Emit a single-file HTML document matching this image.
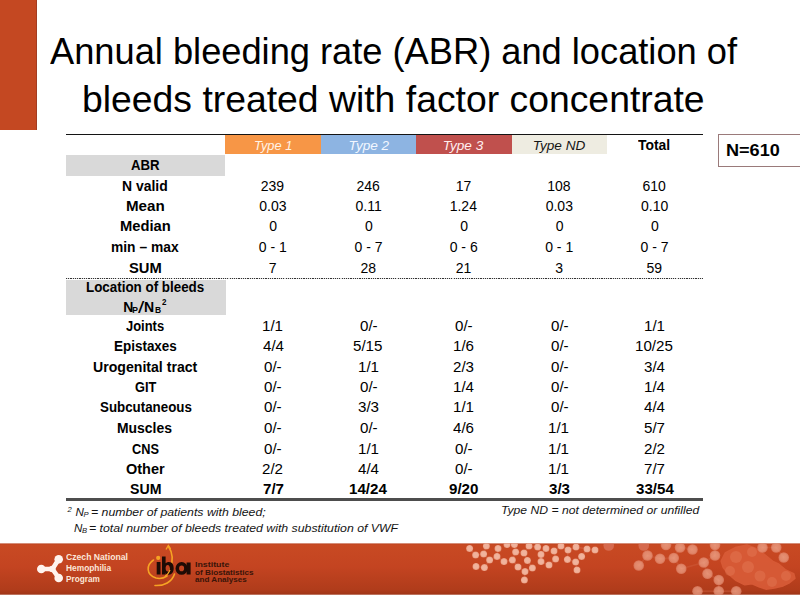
<!DOCTYPE html>
<html><head><meta charset="utf-8"><style>
*{margin:0;padding:0;box-sizing:border-box}
html,body{width:800px;height:600px;overflow:hidden;background:#fff}
body{position:relative;font-family:"Liberation Sans", sans-serif}
.t{position:absolute;line-height:0;white-space:nowrap;transform-origin:0 0}
.r{position:absolute}
</style></head><body>
<div class="r" style="left:0px;top:0px;width:37.00px;height:130.30px;background:linear-gradient(90deg,#C44822 0,#C44822 35.6px,#A83E22 36px,#9E3A20 37px)"></div>
<div class="r" style="left:225px;top:134.5px;width:95.50px;height:19.80px;background:#F79646"></div>
<div class="r" style="left:320.5px;top:134.5px;width:95.50px;height:19.80px;background:#8DB4E2"></div>
<div class="r" style="left:416px;top:134.5px;width:95.70px;height:19.80px;background:#C0504D"></div>
<div class="r" style="left:511.7px;top:134.5px;width:95.00px;height:19.80px;background:#EEECE1"></div>
<div class="r" style="left:66px;top:134px;width:637.00px;height:1.20px;background:#141414"></div>
<div class="r" style="left:66px;top:155px;width:159.00px;height:20.60px;background:#D9D9D9"></div>
<div class="r" style="left:66px;top:279.5px;width:159.50px;height:35.30px;background:#D9D9D9"></div>
<div class="r" style="left:66px;top:277.5px;width:637.00px;height:1.70px;background-image:repeating-linear-gradient(90deg,#333 0 1.2px,#ddd 1.2px 2.24px)"></div>
<div class="r" style="left:66px;top:498.2px;width:637.00px;height:2.60px;background:#4d4d4d"></div>
<div class="r" style="left:718px;top:134.2px;width:88.00px;height:33.10px;border:1.4px solid #9a7a7a;background:#fff"></div>
<svg class="r" style="left:0;top:540px" width="800" height="60" viewBox="0 540 800 60">
<defs>
<linearGradient id="bg" x1="0" y1="0" x2="0" y2="1">
<stop offset="0" stop-color="#B9421F"/><stop offset="0.03" stop-color="#C84A23"/><stop offset="0.45" stop-color="#C44421"/><stop offset="0.9" stop-color="#B03C1B"/><stop offset="1" stop-color="#9F3517"/>
</linearGradient>
<radialGradient id="dot"><stop offset="0" stop-color="#EEB39E"/><stop offset="0.55" stop-color="#F1B39C"/><stop offset="0.85" stop-color="#EDA78D"/><stop offset="1" stop-color="#E08A6E"/></radialGradient>
<radialGradient id="dot2"><stop offset="0" stop-color="#F0A88E"/><stop offset="0.7" stop-color="#EA9C82"/><stop offset="1" stop-color="#DF7F63"/></radialGradient>
<clipPath id="band"><rect x="0" y="543.4" width="800" height="51.3"/></clipPath>
</defs>
<rect x="0" y="543.4" width="800" height="51.3" fill="url(#bg)"/>
<g clip-path="url(#band)">
<g opacity="0.9">
<path d="M721.4,561.3 L725.6,552.8 L736.3,547.4 L746.9,545.3 L755.4,548.5 L760.7,551.7 L766,556 L772.4,561.3 L778.8,564.4 L785.1,569.8 L793.6,574 L794.7,578.3 L789.4,582.5 L783,585.7 L774.5,587.8 L766,588.9 L759.6,586.8 L752.2,583.6 L744.8,584.6 L736.3,580.4 L728.8,574 L723.5,567.6 Z" fill="#D95C38" stroke="#D95C38" stroke-width="2" stroke-linejoin="round"/>
<circle cx="736" cy="557" r="6" fill="#E8805E" opacity="0.45"/>
<circle cx="748" cy="567" r="6" fill="#E8805E" opacity="0.45"/>
<circle cx="760" cy="576" r="5.5" fill="#E8805E" opacity="0.45"/>
<circle cx="772" cy="582" r="5" fill="#E8805E" opacity="0.45"/>
<circle cx="730" cy="571" r="5" fill="#E8805E" opacity="0.45"/>
<circle cx="786" cy="576" r="5" fill="#E8805E" opacity="0.45"/>
<circle cx="752" cy="552" r="5" fill="#E8805E" opacity="0.45"/>
</g>
<line x1="469.6" y1="548.4" x2="475.6" y2="555" stroke="#D4694C" stroke-width="1.4" opacity="0.55"/>
<line x1="475.6" y1="555" x2="483.6" y2="554" stroke="#D4694C" stroke-width="1.4" opacity="0.55"/>
<line x1="483.6" y1="554" x2="486.4" y2="546" stroke="#D4694C" stroke-width="1.4" opacity="0.55"/>
<line x1="483.6" y1="554" x2="489.6" y2="560" stroke="#D4694C" stroke-width="1.4" opacity="0.55"/>
<line x1="489.6" y1="560" x2="497" y2="556.4" stroke="#D4694C" stroke-width="1.4" opacity="0.55"/>
<line x1="497" y1="556.4" x2="498" y2="548.4" stroke="#D4694C" stroke-width="1.4" opacity="0.55"/>
<line x1="489.6" y1="560" x2="484.4" y2="567.6" stroke="#D4694C" stroke-width="1.4" opacity="0.55"/>
<line x1="484.4" y1="567.6" x2="476" y2="566.4" stroke="#D4694C" stroke-width="1.4" opacity="0.55"/>
<line x1="497" y1="556.4" x2="504" y2="561.6" stroke="#D4694C" stroke-width="1.4" opacity="0.55"/>
<line x1="504" y1="561.6" x2="512.4" y2="560" stroke="#D4694C" stroke-width="1.4" opacity="0.55"/>
<line x1="512.4" y1="560" x2="515.6" y2="552" stroke="#D4694C" stroke-width="1.4" opacity="0.55"/>
<line x1="515.6" y1="552" x2="524" y2="553" stroke="#D4694C" stroke-width="1.4" opacity="0.55"/>
<line x1="512.4" y1="560" x2="518" y2="567" stroke="#D4694C" stroke-width="1.4" opacity="0.55"/>
<line x1="518" y1="567" x2="525" y2="571.6" stroke="#D4694C" stroke-width="1.4" opacity="0.55"/>
<line x1="525" y1="571.6" x2="524.4" y2="580" stroke="#D4694C" stroke-width="1.4" opacity="0.55"/>
<line x1="527.4" y1="560.4" x2="524" y2="553" stroke="#D4694C" stroke-width="1.4" opacity="0.55"/>
<line x1="527.4" y1="560.4" x2="532.4" y2="568" stroke="#D4694C" stroke-width="1.4" opacity="0.55"/>
<line x1="532.4" y1="568" x2="525" y2="571.6" stroke="#D4694C" stroke-width="1.4" opacity="0.55"/>
<line x1="524" y1="553" x2="529" y2="546" stroke="#D4694C" stroke-width="1.4" opacity="0.55"/>
<line x1="529" y1="546" x2="537.6" y2="547" stroke="#D4694C" stroke-width="1.4" opacity="0.55"/>
<line x1="537.6" y1="547" x2="541" y2="554.4" stroke="#D4694C" stroke-width="1.4" opacity="0.55"/>
<line x1="541" y1="554.4" x2="546" y2="548.4" stroke="#D4694C" stroke-width="1.4" opacity="0.55"/>
<line x1="541" y1="554.4" x2="541" y2="561.6" stroke="#D4694C" stroke-width="1.4" opacity="0.55"/>
<line x1="541" y1="561.6" x2="549" y2="565" stroke="#D4694C" stroke-width="1.4" opacity="0.55"/>
<line x1="549" y1="565" x2="555.6" y2="559" stroke="#D4694C" stroke-width="1.4" opacity="0.55"/>
<line x1="555.6" y1="559" x2="554" y2="551" stroke="#D4694C" stroke-width="1.4" opacity="0.55"/>
<line x1="554" y1="551" x2="561" y2="546" stroke="#D4694C" stroke-width="1.4" opacity="0.55"/>
<line x1="561" y1="546" x2="568" y2="550" stroke="#D4694C" stroke-width="1.4" opacity="0.55"/>
<line x1="568" y1="550" x2="576" y2="547" stroke="#D4694C" stroke-width="1.4" opacity="0.55"/>
<line x1="576" y1="547" x2="587" y2="549" stroke="#D4694C" stroke-width="1.4" opacity="0.55"/>
<line x1="587" y1="549" x2="595" y2="550" stroke="#D4694C" stroke-width="1.4" opacity="0.55"/>
<line x1="568" y1="550" x2="567.4" y2="559.4" stroke="#D4694C" stroke-width="1.4" opacity="0.55"/>
<line x1="567.4" y1="559.4" x2="575.6" y2="562" stroke="#D4694C" stroke-width="1.4" opacity="0.55"/>
<line x1="575.6" y1="562" x2="577" y2="570" stroke="#D4694C" stroke-width="1.4" opacity="0.55"/>
<line x1="581.6" y1="556.4" x2="587" y2="549" stroke="#D4694C" stroke-width="1.4" opacity="0.55"/>
<line x1="647.5" y1="555.5" x2="660" y2="558.75" stroke="#D0603F" stroke-width="1.8" opacity="0.45"/>
<line x1="660" y1="558.75" x2="673.75" y2="558" stroke="#D0603F" stroke-width="1.8" opacity="0.45"/>
<line x1="673.75" y1="558" x2="681.25" y2="568.75" stroke="#D0603F" stroke-width="1.8" opacity="0.45"/>
<line x1="647.5" y1="555.5" x2="638.75" y2="565.5" stroke="#D0603F" stroke-width="1.8" opacity="0.45"/>
<line x1="673.75" y1="558" x2="680" y2="547.5" stroke="#D0603F" stroke-width="1.8" opacity="0.45"/>
<line x1="680" y1="547.5" x2="692.5" y2="549.5" stroke="#D0603F" stroke-width="1.8" opacity="0.45"/>
<line x1="681.25" y1="568.75" x2="703.75" y2="562.5" stroke="#D0603F" stroke-width="1.8" opacity="0.45"/>
<line x1="703.75" y1="562.5" x2="707.5" y2="573.75" stroke="#D0603F" stroke-width="1.8" opacity="0.45"/>
<line x1="707.5" y1="573.75" x2="718.75" y2="580" stroke="#D0603F" stroke-width="1.8" opacity="0.45"/>
<line x1="703.75" y1="562.5" x2="715" y2="555.5" stroke="#D0603F" stroke-width="1.8" opacity="0.45"/>
<line x1="718.75" y1="580" x2="718.75" y2="591.25" stroke="#D0603F" stroke-width="1.8" opacity="0.45"/>
<line x1="697.5" y1="591.25" x2="718.75" y2="591.25" stroke="#D0603F" stroke-width="1.8" opacity="0.45"/>
<line x1="718.75" y1="591.25" x2="736.25" y2="591.25" stroke="#D0603F" stroke-width="1.8" opacity="0.45"/>
<line x1="715" y1="555.5" x2="715" y2="545" stroke="#D0603F" stroke-width="1.8" opacity="0.45"/>
<line x1="762.5" y1="547.5" x2="776.25" y2="547.5" stroke="#D0603F" stroke-width="1.8" opacity="0.45"/>
<line x1="776.25" y1="547.5" x2="783.75" y2="557.5" stroke="#D0603F" stroke-width="1.8" opacity="0.45"/>
<circle cx="469.6" cy="548.4" r="3.5" fill="url(#dot)"/>
<circle cx="486.4" cy="546" r="3.5" fill="url(#dot)"/>
<circle cx="498" cy="548.4" r="3.5" fill="url(#dot)"/>
<circle cx="475.6" cy="555" r="3.5" fill="url(#dot)"/>
<circle cx="483.6" cy="554" r="3.5" fill="url(#dot)"/>
<circle cx="497" cy="556.4" r="3.5" fill="url(#dot)"/>
<circle cx="489.6" cy="560" r="3.5" fill="url(#dot)"/>
<circle cx="476" cy="566.4" r="3.5" fill="url(#dot)"/>
<circle cx="484.4" cy="567.6" r="3.5" fill="url(#dot)"/>
<circle cx="504" cy="561.6" r="3.5" fill="url(#dot)"/>
<circle cx="512.4" cy="560" r="3.5" fill="url(#dot)"/>
<circle cx="515.6" cy="552" r="3.5" fill="url(#dot)"/>
<circle cx="524" cy="553" r="3.5" fill="url(#dot)"/>
<circle cx="518" cy="567" r="3.5" fill="url(#dot)"/>
<circle cx="527.4" cy="560.4" r="3.5" fill="url(#dot)"/>
<circle cx="525" cy="571.6" r="3.5" fill="url(#dot)"/>
<circle cx="532.4" cy="568" r="3.5" fill="url(#dot)"/>
<circle cx="524.4" cy="580" r="3.5" fill="url(#dot)"/>
<circle cx="529" cy="546" r="3.5" fill="url(#dot)"/>
<circle cx="537.6" cy="547" r="3.5" fill="url(#dot)"/>
<circle cx="546" cy="548.4" r="3.5" fill="url(#dot)"/>
<circle cx="541" cy="554.4" r="3.5" fill="url(#dot)"/>
<circle cx="554" cy="551" r="3.5" fill="url(#dot)"/>
<circle cx="541" cy="561.6" r="3.5" fill="url(#dot)"/>
<circle cx="549" cy="565" r="3.5" fill="url(#dot)"/>
<circle cx="555.6" cy="559" r="3.5" fill="url(#dot)"/>
<circle cx="561" cy="546" r="3.5" fill="url(#dot)"/>
<circle cx="568" cy="550" r="3.5" fill="url(#dot)"/>
<circle cx="576" cy="547" r="3.5" fill="url(#dot)"/>
<circle cx="587" cy="549" r="3.5" fill="url(#dot)"/>
<circle cx="595" cy="550" r="3.5" fill="url(#dot)"/>
<circle cx="581.6" cy="556.4" r="3.5" fill="url(#dot)"/>
<circle cx="567.4" cy="559.4" r="3.5" fill="url(#dot)"/>
<circle cx="575.6" cy="562" r="3.5" fill="url(#dot)"/>
<circle cx="577" cy="570" r="3.5" fill="url(#dot)"/>
<circle cx="514.4" cy="544.5" r="3.5" fill="url(#dot)"/>
<circle cx="507" cy="544.5" r="3.5" fill="url(#dot)"/>
<circle cx="647.5" cy="555.5" r="5.3" fill="url(#dot2)" opacity="0.75"/>
<circle cx="660" cy="558.75" r="5.3" fill="url(#dot2)" opacity="0.75"/>
<circle cx="673.75" cy="558" r="5.3" fill="url(#dot2)" opacity="0.75"/>
<circle cx="638.75" cy="565.5" r="5.3" fill="url(#dot2)" opacity="0.75"/>
<circle cx="681.25" cy="568.75" r="5.3" fill="url(#dot2)" opacity="0.75"/>
<circle cx="680" cy="547.5" r="5.3" fill="url(#dot2)" opacity="0.75"/>
<circle cx="692.5" cy="549.5" r="5.3" fill="url(#dot2)" opacity="0.75"/>
<circle cx="666" cy="545" r="5.3" fill="url(#dot2)" opacity="0.75"/>
<circle cx="703.75" cy="562.5" r="5.3" fill="url(#dot2)" opacity="0.75"/>
<circle cx="707.5" cy="573.75" r="5.3" fill="url(#dot2)" opacity="0.75"/>
<circle cx="715" cy="555.5" r="5.3" fill="url(#dot2)" opacity="0.75"/>
<circle cx="718.75" cy="580" r="5.3" fill="url(#dot2)" opacity="0.75"/>
<circle cx="697.5" cy="591.25" r="5.3" fill="url(#dot2)" opacity="0.75"/>
<circle cx="718.75" cy="591.25" r="5.3" fill="url(#dot2)" opacity="0.75"/>
<circle cx="736.25" cy="591.25" r="5.3" fill="url(#dot2)" opacity="0.75"/>
<circle cx="715" cy="545" r="5.3" fill="url(#dot2)" opacity="0.75"/>
<circle cx="762.5" cy="547.5" r="5.3" fill="url(#dot2)" opacity="0.75"/>
<circle cx="776.25" cy="547.5" r="5.3" fill="url(#dot2)" opacity="0.75"/>
<circle cx="783.75" cy="557.5" r="5.3" fill="url(#dot2)" opacity="0.75"/>
<circle cx="608.75" cy="545.5" r="5.3" fill="#E0806A" opacity="0.6"/>
<circle cx="643.75" cy="545.5" r="5.3" fill="#E0806A" opacity="0.6"/>
<g stroke="#FFF3EE" stroke-width="4.6" stroke-linecap="round" fill="none"><path d="M41.5,569 L52.5,569 L58.7,559.3 M52.5,569 L58.7,578"/></g>
<g fill="#FFF3EE"><circle cx="58.7" cy="559.3" r="4.3"/><circle cx="41.3" cy="569" r="4.3"/><circle cx="58.7" cy="578" r="4.3"/><circle cx="52.3" cy="569" r="3.3"/></g>
<g fill="none" stroke="#F6A324" stroke-width="1.6" stroke-linecap="round"><path d="M153.5,560 C146,565 146,575 156,578 C160,579 164,578 167,576"/><path d="M174.5,574 C172,582 164,586 155,585.5"/><path d="M170,570 C173,562 173,553 168.5,546.5"/></g>
<path d="M166,549.5 L168.3,545.5 L170.6,549" fill="none" stroke="#F6A324" stroke-width="1.4"/>
<g fill="#1E0B05"><rect x="156.7" y="562" width="3.8" height="12.5"/><path d="M162,556.6 h3.6 v6.6 c1,-0.9 2.3,-1.2 3.4,-1.2 c3.2,0 4.7,2.8 4.7,6.3 c0,3.6 -1.6,6.4 -4.9,6.4 c-1.3,0 -2.5,-0.5 -3.3,-1.4 v1.2 h-3.5 z M167.7,565 c-1.5,0 -2.1,1.5 -2.1,3.3 c0,1.9 0.7,3.3 2.1,3.3 c1.5,0 2.1,-1.5 2.1,-3.3 c0,-1.9 -0.7,-3.3 -2.1,-3.3 z" fill-rule="evenodd"/><ellipse cx="181.6" cy="568.4" rx="4.3" ry="4.6" fill="none" stroke="#1E0B05" stroke-width="3.6"/><path d="M186.6,562.4 h4.0 v12.1 h-4.0 z"/></g>
<circle cx="158.2" cy="557.9" r="2.1" fill="#F6A324"/>
<path d="M170,570 C168,574 166,576 165,576" fill="none" stroke="#F6A324" stroke-width="1.3"/>
</g></svg>
<div class="t" style="left:50.00px;top:52.00px;font-size:36.2px;color:#000;transform:scaleX(1.0015)">Annual bleeding rate (ABR) and location of</div>
<div class="t" style="left:81.94px;top:100.00px;font-size:36.2px;color:#000;transform:scaleX(1.0317)">bleeds treated with factor concentrate</div>
<div class="t" style="left:254.06px;top:146.00px;font-size:13.6px;font-style:italic;color:#FFF3E6;transform:scaleX(0.9436)">Type 1</div>
<div class="t" style="left:348.60px;top:146.00px;font-size:13.6px;font-style:italic;color:#F2F7FF;transform:scaleX(1.0000)">Type 2</div>
<div class="t" style="left:442.70px;top:146.00px;font-size:13.6px;font-style:italic;color:#FFEFEF;transform:scaleX(1.0000)">Type 3</div>
<div class="t" style="left:532.70px;top:146.00px;font-size:13.6px;font-style:italic;color:#151515;transform:scaleX(1.0000)">Type ND</div>
<div class="t" style="left:638.40px;top:146.00px;font-size:13.8px;font-weight:bold;color:#000;transform:scaleX(1.0065)">Total</div>
<div class="t" style="left:131.00px;top:165.00px;font-size:14px;font-weight:bold;color:#000;transform:scaleX(0.9433)">ABR</div>
<div class="t" style="left:122.20px;top:186.00px;font-size:14px;font-weight:bold;color:#000;transform:scaleX(0.9955)">N valid</div>
<div class="t" style="left:125.52px;top:206.00px;font-size:14px;font-weight:bold;color:#000;transform:scaleX(1.0824)">Mean</div>
<div class="t" style="left:119.85px;top:226.00px;font-size:14px;font-weight:bold;color:#000;transform:scaleX(1.0532)">Median</div>
<div class="t" style="left:110.91px;top:247.00px;font-size:14px;font-weight:bold;color:#000;transform:scaleX(0.9866)">min – max</div>
<div class="t" style="left:128.60px;top:268.00px;font-size:14px;font-weight:bold;color:#000;transform:scaleX(1.0533)">SUM</div>
<div class="t" style="left:85.84px;top:287.00px;font-size:14px;font-weight:bold;color:#000;transform:scaleX(0.9557)">Location of bleeds</div>
<div class="t" style="left:125.80px;top:326.00px;font-size:14px;font-weight:bold;color:#000;transform:scaleX(0.9244)">Joints</div>
<div class="t" style="left:113.74px;top:346.00px;font-size:14px;font-weight:bold;color:#000;transform:scaleX(0.9609)">Epistaxes</div>
<div class="t" style="left:93.29px;top:367.00px;font-size:14px;font-weight:bold;color:#000;transform:scaleX(1.0078)">Urogenital tract</div>
<div class="t" style="left:134.50px;top:387.00px;font-size:14px;font-weight:bold;color:#000;transform:scaleX(0.9130)">GIT</div>
<div class="t" style="left:99.70px;top:407.00px;font-size:14px;font-weight:bold;color:#000;transform:scaleX(0.9521)">Subcutaneous</div>
<div class="t" style="left:117.31px;top:428.00px;font-size:14px;font-weight:bold;color:#000;transform:scaleX(0.9944)">Muscles</div>
<div class="t" style="left:131.80px;top:449.00px;font-size:14px;font-weight:bold;color:#000;transform:scaleX(0.9103)">CNS</div>
<div class="t" style="left:126.20px;top:469.00px;font-size:14px;font-weight:bold;color:#000;transform:scaleX(1.0351)">Other</div>
<div class="t" style="left:129.70px;top:489.00px;font-size:14px;font-weight:bold;color:#000;transform:scaleX(1.0100)">SUM</div>
<div class="t" style="left:260.80px;top:186.00px;font-size:14px;color:#000;transform:scaleX(1.0000)">239</div>
<div class="t" style="left:356.50px;top:186.00px;font-size:14px;color:#000;transform:scaleX(1.0000)">246</div>
<div class="t" style="left:455.70px;top:186.00px;font-size:14px;color:#000;transform:scaleX(1.0000)">17</div>
<div class="t" style="left:547.20px;top:186.00px;font-size:14px;color:#000;transform:scaleX(1.0000)">108</div>
<div class="t" style="left:642.50px;top:186.00px;font-size:14px;color:#000;transform:scaleX(1.0000)">610</div>
<div class="t" style="left:259.30px;top:206.00px;font-size:14px;color:#000;transform:scaleX(1.0000)">0.03</div>
<div class="t" style="left:355.50px;top:206.00px;font-size:14px;color:#000;transform:scaleX(1.0000)">0.11</div>
<div class="t" style="left:449.70px;top:206.00px;font-size:14px;color:#000;transform:scaleX(1.0000)">1.24</div>
<div class="t" style="left:545.70px;top:206.00px;font-size:14px;color:#000;transform:scaleX(1.0000)">0.03</div>
<div class="t" style="left:641.00px;top:206.00px;font-size:14px;color:#000;transform:scaleX(1.0000)">0.10</div>
<div class="t" style="left:269.30px;top:226.00px;font-size:14px;color:#000;transform:scaleX(1.0000)">0</div>
<div class="t" style="left:365.00px;top:226.00px;font-size:14px;color:#000;transform:scaleX(1.0000)">0</div>
<div class="t" style="left:460.20px;top:226.00px;font-size:14px;color:#000;transform:scaleX(1.0000)">0</div>
<div class="t" style="left:555.70px;top:226.00px;font-size:14px;color:#000;transform:scaleX(1.0000)">0</div>
<div class="t" style="left:651.00px;top:226.00px;font-size:14px;color:#000;transform:scaleX(1.0000)">0</div>
<div class="t" style="left:258.80px;top:247.00px;font-size:14px;color:#000;transform:scaleX(1.0000)">0 - 1</div>
<div class="t" style="left:354.50px;top:247.00px;font-size:14px;color:#000;transform:scaleX(1.0000)">0 - 7</div>
<div class="t" style="left:449.70px;top:247.00px;font-size:14px;color:#000;transform:scaleX(1.0000)">0 - 6</div>
<div class="t" style="left:545.20px;top:247.00px;font-size:14px;color:#000;transform:scaleX(1.0000)">0 - 1</div>
<div class="t" style="left:640.50px;top:247.00px;font-size:14px;color:#000;transform:scaleX(1.0000)">0 - 7</div>
<div class="t" style="left:268.80px;top:268.00px;font-size:14px;color:#000;transform:scaleX(1.0000)">7</div>
<div class="t" style="left:360.50px;top:268.00px;font-size:14px;color:#000;transform:scaleX(1.0000)">28</div>
<div class="t" style="left:455.70px;top:268.00px;font-size:14px;color:#000;transform:scaleX(1.0000)">21</div>
<div class="t" style="left:555.20px;top:268.00px;font-size:14px;color:#000;transform:scaleX(1.0000)">3</div>
<div class="t" style="left:646.50px;top:268.00px;font-size:14px;color:#000;transform:scaleX(1.0000)">59</div>
<div class="t" style="left:262.00px;top:326.00px;font-size:14px;color:#000;transform:scaleX(1.0800)">1/1</div>
<div class="t" style="left:359.86px;top:326.00px;font-size:14px;color:#000;transform:scaleX(1.0800)">0/-</div>
<div class="t" style="left:455.06px;top:326.00px;font-size:14px;color:#000;transform:scaleX(1.0800)">0/-</div>
<div class="t" style="left:550.56px;top:326.00px;font-size:14px;color:#000;transform:scaleX(1.0800)">0/-</div>
<div class="t" style="left:643.70px;top:326.00px;font-size:14px;color:#000;transform:scaleX(1.0800)">1/1</div>
<div class="t" style="left:262.54px;top:346.00px;font-size:14px;color:#000;transform:scaleX(1.0800)">4/4</div>
<div class="t" style="left:353.38px;top:346.00px;font-size:14px;color:#000;transform:scaleX(1.0800)">5/15</div>
<div class="t" style="left:452.90px;top:346.00px;font-size:14px;color:#000;transform:scaleX(1.0800)">1/6</div>
<div class="t" style="left:550.56px;top:346.00px;font-size:14px;color:#000;transform:scaleX(1.0800)">0/-</div>
<div class="t" style="left:635.06px;top:346.00px;font-size:14px;color:#000;transform:scaleX(1.0800)">10/25</div>
<div class="t" style="left:264.16px;top:367.00px;font-size:14px;color:#000;transform:scaleX(1.0800)">0/-</div>
<div class="t" style="left:357.70px;top:367.00px;font-size:14px;color:#000;transform:scaleX(1.0800)">1/1</div>
<div class="t" style="left:452.90px;top:367.00px;font-size:14px;color:#000;transform:scaleX(1.0800)">2/3</div>
<div class="t" style="left:550.56px;top:367.00px;font-size:14px;color:#000;transform:scaleX(1.0800)">0/-</div>
<div class="t" style="left:643.70px;top:367.00px;font-size:14px;color:#000;transform:scaleX(1.0800)">3/4</div>
<div class="t" style="left:264.16px;top:387.00px;font-size:14px;color:#000;transform:scaleX(1.0800)">0/-</div>
<div class="t" style="left:359.86px;top:387.00px;font-size:14px;color:#000;transform:scaleX(1.0800)">0/-</div>
<div class="t" style="left:452.90px;top:387.00px;font-size:14px;color:#000;transform:scaleX(1.0800)">1/4</div>
<div class="t" style="left:550.56px;top:387.00px;font-size:14px;color:#000;transform:scaleX(1.0800)">0/-</div>
<div class="t" style="left:643.70px;top:387.00px;font-size:14px;color:#000;transform:scaleX(1.0800)">1/4</div>
<div class="t" style="left:264.16px;top:407.00px;font-size:14px;color:#000;transform:scaleX(1.0800)">0/-</div>
<div class="t" style="left:357.70px;top:407.00px;font-size:14px;color:#000;transform:scaleX(1.0800)">3/3</div>
<div class="t" style="left:452.90px;top:407.00px;font-size:14px;color:#000;transform:scaleX(1.0800)">1/1</div>
<div class="t" style="left:550.56px;top:407.00px;font-size:14px;color:#000;transform:scaleX(1.0800)">0/-</div>
<div class="t" style="left:644.24px;top:407.00px;font-size:14px;color:#000;transform:scaleX(1.0800)">4/4</div>
<div class="t" style="left:264.16px;top:428.00px;font-size:14px;color:#000;transform:scaleX(1.0800)">0/-</div>
<div class="t" style="left:359.86px;top:428.00px;font-size:14px;color:#000;transform:scaleX(1.0800)">0/-</div>
<div class="t" style="left:453.44px;top:428.00px;font-size:14px;color:#000;transform:scaleX(1.0800)">4/6</div>
<div class="t" style="left:548.40px;top:428.00px;font-size:14px;color:#000;transform:scaleX(1.0800)">1/1</div>
<div class="t" style="left:643.70px;top:428.00px;font-size:14px;color:#000;transform:scaleX(1.0800)">5/7</div>
<div class="t" style="left:264.16px;top:449.00px;font-size:14px;color:#000;transform:scaleX(1.0800)">0/-</div>
<div class="t" style="left:357.70px;top:449.00px;font-size:14px;color:#000;transform:scaleX(1.0800)">1/1</div>
<div class="t" style="left:455.06px;top:449.00px;font-size:14px;color:#000;transform:scaleX(1.0800)">0/-</div>
<div class="t" style="left:548.40px;top:449.00px;font-size:14px;color:#000;transform:scaleX(1.0800)">1/1</div>
<div class="t" style="left:643.70px;top:449.00px;font-size:14px;color:#000;transform:scaleX(1.0800)">2/2</div>
<div class="t" style="left:262.00px;top:469.00px;font-size:14px;color:#000;transform:scaleX(1.0800)">2/2</div>
<div class="t" style="left:358.24px;top:469.00px;font-size:14px;color:#000;transform:scaleX(1.0800)">4/4</div>
<div class="t" style="left:455.06px;top:469.00px;font-size:14px;color:#000;transform:scaleX(1.0800)">0/-</div>
<div class="t" style="left:548.40px;top:469.00px;font-size:14px;color:#000;transform:scaleX(1.0800)">1/1</div>
<div class="t" style="left:643.70px;top:469.00px;font-size:14px;color:#000;transform:scaleX(1.0800)">7/7</div>
<div class="t" style="left:262.54px;top:489.00px;font-size:14px;font-weight:bold;color:#000;transform:scaleX(1.0800)">7/7</div>
<div class="t" style="left:349.06px;top:489.00px;font-size:14px;font-weight:bold;color:#000;transform:scaleX(1.0800)">14/24</div>
<div class="t" style="left:449.12px;top:489.00px;font-size:14px;font-weight:bold;color:#000;transform:scaleX(1.0800)">9/20</div>
<div class="t" style="left:548.94px;top:489.00px;font-size:14px;font-weight:bold;color:#000;transform:scaleX(1.0800)">3/3</div>
<div class="t" style="left:635.60px;top:489.00px;font-size:14px;font-weight:bold;color:#000;transform:scaleX(1.0800)">33/54</div>
<div class="t" style="left:123.30px;top:307.00px;font-size:14px;font-weight:bold;color:#000;transform:scaleX(1.0000)">N</div>
<div class="t" style="left:132.20px;top:310.00px;font-size:8.5px;font-weight:bold;color:#000;transform:scaleX(1.0000)">P</div>
<div class="t" style="left:137.60px;top:308.00px;font-size:17px;color:#000;transform:scaleX(1.3400)">/</div>
<div class="t" style="left:144.00px;top:307.00px;font-size:14px;font-weight:bold;color:#000;transform:scaleX(1.0000)">N</div>
<div class="t" style="left:155.00px;top:310.00px;font-size:8.5px;font-weight:bold;color:#000;transform:scaleX(1.0000)">B</div>
<div class="t" style="left:162.00px;top:302.00px;font-size:8.5px;font-weight:bold;color:#000;transform:scaleX(0.9400)">2</div>
<div class="t" style="left:725.82px;top:151.00px;font-size:16.8px;font-weight:bold;color:#000;transform:scaleX(1.0771)">N=610</div>
<div class="t" style="left:67.50px;top:510.00px;font-size:7.6px;font-style:italic;color:#141414;transform:scaleX(1.0000)">2</div>
<div class="t" style="left:75.50px;top:512.00px;font-size:11.6px;font-style:italic;color:#141414;transform:scaleX(1.0000)">N</div>
<div class="t" style="left:83.50px;top:515.00px;font-size:7.6px;font-style:italic;color:#141414;transform:scaleX(1.0000)">P</div>
<div class="t" style="left:90.94px;top:512.00px;font-size:11.6px;font-style:italic;color:#141414;transform:scaleX(1.0610)">= number of patients with bleed;</div>
<div class="t" style="left:74.00px;top:528.00px;font-size:11.6px;font-style:italic;color:#141414;transform:scaleX(1.0000)">N</div>
<div class="t" style="left:82.00px;top:531.00px;font-size:7.6px;font-style:italic;color:#141414;transform:scaleX(1.0000)">B</div>
<div class="t" style="left:89.44px;top:528.00px;font-size:11.6px;font-style:italic;color:#141414;transform:scaleX(1.0601)">= total number of bleeds treated with substitution of VWF</div>
<div class="t" style="left:501.35px;top:510.00px;font-size:11.6px;font-style:italic;color:#141414;transform:scaleX(1.0489)">Type ND = not determined or unfilled</div>
<div class="t" style="left:65.90px;top:557.00px;font-size:9.4px;font-weight:bold;color:#FCE6D8;transform:scaleX(0.9209)">Czech National</div>
<div class="t" style="left:65.90px;top:568.00px;font-size:9.4px;font-weight:bold;color:#FCE6D8;transform:scaleX(0.8922)">Hemophilia</div>
<div class="t" style="left:65.90px;top:579.00px;font-size:9.4px;font-weight:bold;color:#FCE6D8;transform:scaleX(0.8763)">Program</div>
<div class="t" style="left:194.80px;top:565.00px;font-size:7.6px;font-weight:bold;color:#3A1409;transform:scaleX(1.1621)">Institute</div>
<div class="t" style="left:194.80px;top:573.00px;font-size:7.6px;font-weight:bold;color:#3A1409;transform:scaleX(1.0778)">of Biostatistics</div>
<div class="t" style="left:194.80px;top:580.00px;font-size:7.6px;font-weight:bold;color:#3A1409;transform:scaleX(1.0633)">and Analyses</div>
</body></html>
